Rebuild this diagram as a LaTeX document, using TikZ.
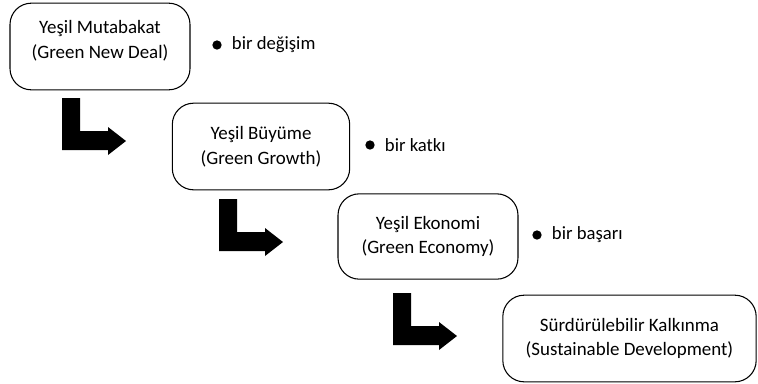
\documentclass[tikz,border=0pt]{standalone}
\usepackage{fontspec}
\setmainfont{Carlito}
\usetikzlibrary{positioning}

\tikzset{
	stage/.style={draw=black, thick, rounded corners=16pt, align=center, font=\fontsize{14.2}{18.5}\selectfont},
	note/.style={font=\fontsize{14}{16}\selectfont, anchor=west},
	dot/.style={circle, fill=black, inner sep=0pt, minimum size=7pt}
}

\begin{document}
\begin{tikzpicture}[x=0.75pt, y=-0.75pt]
		\useasboundingbox (0,0) rectangle (758,383);
		% stages
		\node[stage, minimum width=135pt, minimum height=65pt] (gnd) at (100,46.5) {Yeşil Mutabakat\\(Green New Deal)\\[-8pt]\mbox{}};
		\node[stage, minimum width=133pt, minimum height=65pt] (gg) at (261,146.5) {Yeşil Büyüme\\(Green Growth)};
		\node[stage, minimum width=135pt, minimum height=64pt] (ge) at (428,236.5) {Yeşil Ekonomi\\(Green Economy)};
		\node[stage, minimum width=190pt, minimum height=65pt] (sd) at (629.5,338.5) {Sürdürülebilir Kalkınma\\(Sustainable Development)};
		% notes
		\node[dot] (d1) at (217,45) {};
		\node[note, right=4pt of d1] (n1) {bir değişim};
		\node[dot] (d2) at (370,145) {};
		\node[note, right=4pt of d2] (n2) {bir katkı};
		\node[dot] (d3) at (537,235) {};
		\node[note, right=4pt of d3] (n3) {bir başarı};
		% bent arrows
		\foreach \x/\y in {62/98, 219/199, 393/293}
			\fill (\x,\y) -- ++(18,0) -- ++(0,33) -- ++(28,0) -- ++(0,-4)
				-- ++(18,14) -- ++(-18,14) -- ++(0,-5) -- ++(-46,0) -- cycle;
	\end{tikzpicture}
\end{document}
